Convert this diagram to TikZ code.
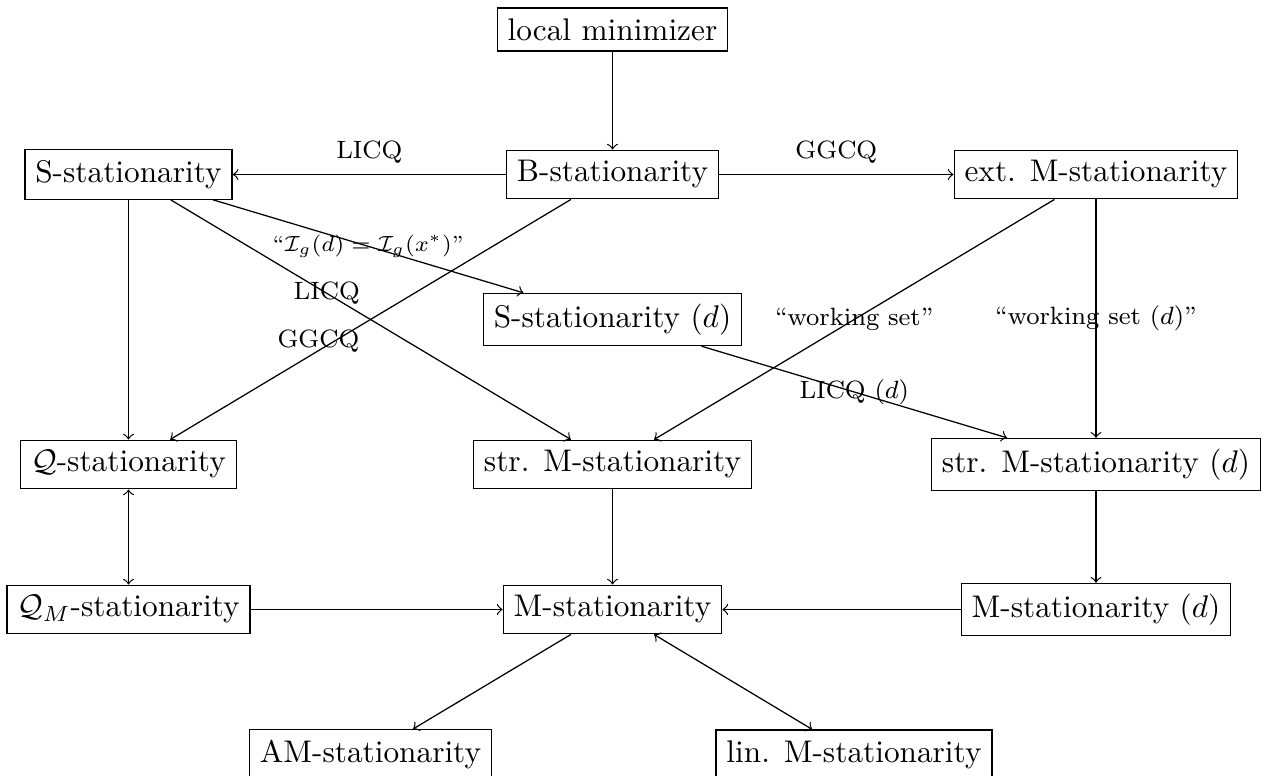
\documentclass[tikz,border=0pt]{standalone}
\begin{document}
\begin{tikzpicture}[x=0.3195pt, y=-0.3195pt,
  box/.style={draw, rectangle, inner sep=3.33pt},
  lbl/.style={font=\footnotesize},
  tinylbl/.style={font=\scriptsize},
  every path/.style={->}]
\useasboundingbox (0,0) rectangle (1269,776);

% stationarity concepts
\node[box] (lm)  at (612.5,29.5)  {local minimizer};
\node[box] (B)   at (612.5,174.5) {B-stationarity};
\node[box] (S)   at (128.5,174.5) {S-stationarity};
\node[box] (eM)  at (1096,174.5)  {ext. M-stationarity};
\node[box] (Sd)  at (612.5,319.5) {S-stationarity $(d)$};
\node[box] (Q)   at (128.5,464.5) {$\mathcal{Q}$-stationarity};
\node[box] (sM)  at (612.5,464.5) {str. M-stationarity};
\node[box] (sMd) at (1096,464.5)  {str. M-stationarity $(d)$};
\node[box] (QM)  at (128.5,609.5) {$\mathcal{Q}_M$-stationarity};
\node[box] (M)   at (612.5,609.5) {M-stationarity};
\node[box] (Md)  at (1096,609.5)  {M-stationarity $(d)$};
\node[box] (AM)  at (370.5,754.5) {AM-stationarity};
\node[box] (lM)  at (854,754.5)   {lin. M-stationarity};

% implications
\draw (lm) -- (B);
\draw (B) -- node[lbl, above] {LICQ} (S);
\draw (B) -- node[lbl, above] {GGCQ} (eM);
\draw (S) -- (Q);
\draw (S) -- node[lbl, pos=0.39] {LICQ} (sM);
\draw (S) -- node[tinylbl] {``$\mathcal{I}_g(d) = \mathcal{I}_g(x^*)$''} (Sd);
\draw (B) -- node[lbl, pos=0.63, yshift=3pt] {GGCQ} (Q);
\draw (eM) -- node[lbl] {``working set''} (sM);
\draw (eM) -- node[lbl] {``working set $(d)$''} (sMd);
\draw (Sd) -- node[lbl] {LICQ $(d)$} (sMd);
\draw[<->] (Q) -- (QM);
\draw (QM) -- (M);
\draw (sM) -- (M);
\draw (sMd) -- (Md);
\draw (Md) -- (M);
\draw (M) -- (AM);
\draw[<->] (M) -- (lM);
\end{tikzpicture}
\end{document}
